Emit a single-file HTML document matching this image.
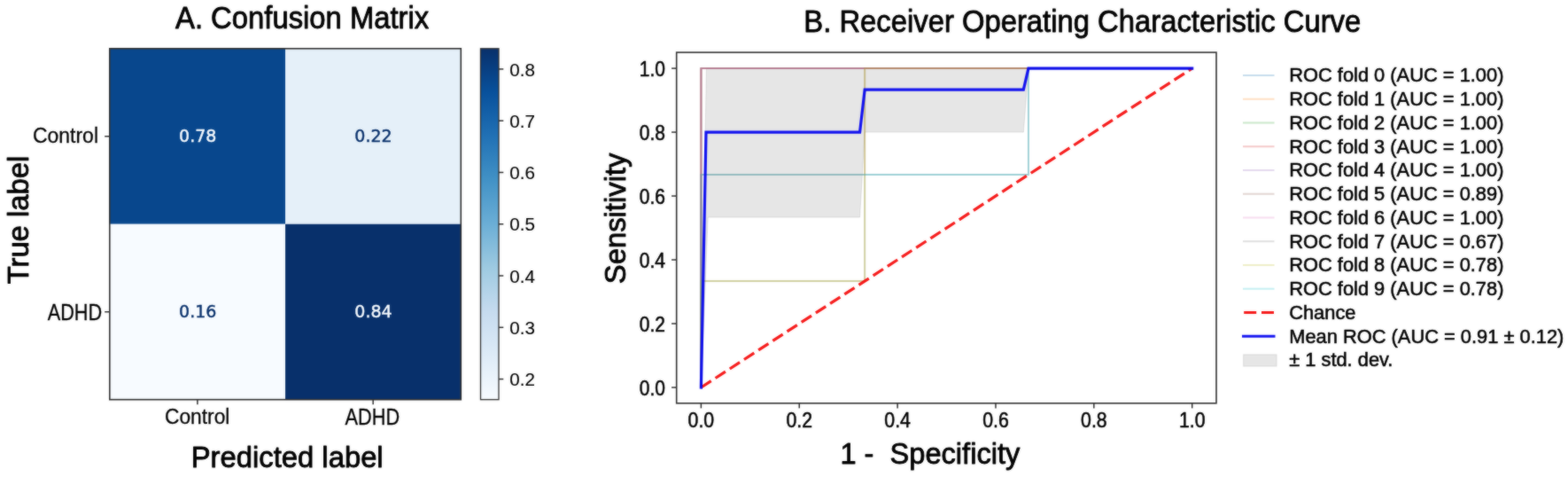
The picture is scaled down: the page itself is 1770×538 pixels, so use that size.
<!DOCTYPE html>
<html lang="en">
<head>
<meta charset="utf-8">
<title>Confusion Matrix and ROC Curve</title>
<style>
html,body{margin:0;padding:0;background:#fff;}
body{width:1770px;height:538px;overflow:hidden;font-family:"Liberation Sans", sans-serif;}
svg{display:block;}
text{white-space:pre;}
</style>
</head>
<body>
<svg width="1770" height="538" viewBox="0 0 1770 538">
<defs>
<filter id="soft" x="0" y="0" width="1770" height="538" filterUnits="userSpaceOnUse" color-interpolation-filters="sRGB">
<feGaussianBlur in="SourceGraphic" stdDeviation="0.8" result="b"/>
<feComposite in="SourceGraphic" in2="b" operator="arithmetic" k1="0" k2="0.55" k3="0.45" k4="0"/>
</filter>
</defs>
<g filter="url(#soft)">
<rect x="0" y="0" width="1770" height="538" fill="#ffffff"/>
<rect x="123.8" y="54.8" width="198.25" height="197.95" fill="#08478d"/>
<rect x="322.05" y="54.8" width="198.25" height="197.95" fill="#e5f0f9"/>
<rect x="123.8" y="252.75" width="198.25" height="197.95" fill="#f7fbff"/>
<rect x="322.05" y="252.75" width="198.25" height="197.95" fill="#08306b"/>
<rect x="123.8" y="54.8" width="396.50" height="395.90" fill="none" stroke="#303030" stroke-width="1.6"/>
<text x="223.22" y="159.78" font-family='"DejaVu Sans", "Liberation Sans", sans-serif' font-size="19.00" fill="#f7fbff" text-anchor="middle" textLength="42.30" lengthAdjust="spacingAndGlyphs" stroke="#f7fbff" stroke-width="0.45" stroke-linejoin="round">0.78</text>
<text x="421.47" y="159.78" font-family='"DejaVu Sans", "Liberation Sans", sans-serif' font-size="19.00" fill="#08306b" text-anchor="middle" textLength="42.30" lengthAdjust="spacingAndGlyphs" stroke="#08306b" stroke-width="0.45" stroke-linejoin="round">0.22</text>
<text x="223.22" y="357.73" font-family='"DejaVu Sans", "Liberation Sans", sans-serif' font-size="19.00" fill="#08306b" text-anchor="middle" textLength="42.30" lengthAdjust="spacingAndGlyphs" stroke="#08306b" stroke-width="0.45" stroke-linejoin="round">0.16</text>
<text x="421.47" y="357.73" font-family='"DejaVu Sans", "Liberation Sans", sans-serif' font-size="19.00" fill="#f7fbff" text-anchor="middle" textLength="42.30" lengthAdjust="spacingAndGlyphs" stroke="#f7fbff" stroke-width="0.45" stroke-linejoin="round">0.84</text>
<line x1="118.2" y1="153.78" x2="123.8" y2="153.78" stroke="#303030" stroke-width="1.5"/>
<line x1="118.2" y1="351.73" x2="123.8" y2="351.73" stroke="#303030" stroke-width="1.5"/>
<line x1="222.92" y1="450.7" x2="222.92" y2="456.3" stroke="#303030" stroke-width="1.5"/>
<line x1="421.17" y1="450.7" x2="421.17" y2="456.3" stroke="#303030" stroke-width="1.5"/>
<text x="37.00" y="161.30" font-family='"Liberation Sans", sans-serif' font-size="23.88" fill="#000" text-anchor="start" textLength="73.99" lengthAdjust="spacingAndGlyphs" stroke="#000" stroke-width="0.3" stroke-linejoin="round">Control</text>
<text x="53.70" y="361.40" font-family='"Liberation Sans", sans-serif' font-size="26.00" fill="#000" text-anchor="start" textLength="61.52" lengthAdjust="spacingAndGlyphs" stroke="#000" stroke-width="0.3" stroke-linejoin="round">ADHD</text>
<text x="186.00" y="478.10" font-family='"Liberation Sans", sans-serif' font-size="23.88" fill="#000" text-anchor="start" textLength="73.34" lengthAdjust="spacingAndGlyphs" stroke="#000" stroke-width="0.3" stroke-linejoin="round">Control</text>
<text x="389.60" y="479.20" font-family='"Liberation Sans", sans-serif' font-size="26.00" fill="#000" text-anchor="start" textLength="61.52" lengthAdjust="spacingAndGlyphs" stroke="#000" stroke-width="0.3" stroke-linejoin="round">ADHD</text>
<text x="215.70" y="526.80" font-family='"Liberation Sans", sans-serif' font-size="33.46" fill="#000" text-anchor="start" textLength="216.98" lengthAdjust="spacingAndGlyphs" stroke="#000" stroke-width="0.85" stroke-linejoin="round">Predicted label</text>
<text x="31.70" y="248.05" font-family='"Liberation Sans", sans-serif' font-size="32.31" fill="#000" text-anchor="middle" textLength="144.64" lengthAdjust="spacingAndGlyphs" stroke="#000" stroke-width="0.85" stroke-linejoin="round" transform="rotate(-90 31.7 248.05)">True label</text>
<text x="198.00" y="31.90" font-family='"Liberation Sans", sans-serif' font-size="34.93" fill="#000" text-anchor="start" textLength="286.20" lengthAdjust="spacingAndGlyphs" stroke="#000" stroke-width="0.85" stroke-linejoin="round">A. Confusion Matrix</text>
<defs><linearGradient id="blues" x1="0" y1="1" x2="0" y2="0">
<stop offset="0.0000" stop-color="#f7fbff"/>
<stop offset="0.1250" stop-color="#deebf7"/>
<stop offset="0.2500" stop-color="#c6dbef"/>
<stop offset="0.3750" stop-color="#9ecae1"/>
<stop offset="0.5000" stop-color="#6baed6"/>
<stop offset="0.6250" stop-color="#4292c6"/>
<stop offset="0.7500" stop-color="#2171b5"/>
<stop offset="0.8750" stop-color="#08519c"/>
<stop offset="1.0000" stop-color="#08306b"/>
</linearGradient></defs>
<rect x="542.5" y="54.8" width="20.5" height="395.90" fill="url(#blues)" stroke="#333" stroke-width="1.3"/>
<line x1="563.0" y1="427.57" x2="568.3" y2="427.57" stroke="#303030" stroke-width="1.5"/>
<text x="575.30" y="435.27" font-family='"Liberation Sans", sans-serif' font-size="20.60" fill="#000" text-anchor="start" textLength="28.64" lengthAdjust="spacingAndGlyphs" stroke="#000" stroke-width="0.15" stroke-linejoin="round">0.2</text>
<line x1="563.0" y1="369.29" x2="568.3" y2="369.29" stroke="#303030" stroke-width="1.5"/>
<text x="575.30" y="376.99" font-family='"Liberation Sans", sans-serif' font-size="20.60" fill="#000" text-anchor="start" textLength="28.64" lengthAdjust="spacingAndGlyphs" stroke="#000" stroke-width="0.15" stroke-linejoin="round">0.3</text>
<line x1="563.0" y1="311.02" x2="568.3" y2="311.02" stroke="#303030" stroke-width="1.5"/>
<text x="575.30" y="318.72" font-family='"Liberation Sans", sans-serif' font-size="20.60" fill="#000" text-anchor="start" textLength="28.64" lengthAdjust="spacingAndGlyphs" stroke="#000" stroke-width="0.15" stroke-linejoin="round">0.4</text>
<line x1="563.0" y1="252.75" x2="568.3" y2="252.75" stroke="#303030" stroke-width="1.5"/>
<text x="575.30" y="260.45" font-family='"Liberation Sans", sans-serif' font-size="20.60" fill="#000" text-anchor="start" textLength="28.64" lengthAdjust="spacingAndGlyphs" stroke="#000" stroke-width="0.15" stroke-linejoin="round">0.5</text>
<line x1="563.0" y1="194.48" x2="568.3" y2="194.48" stroke="#303030" stroke-width="1.5"/>
<text x="575.30" y="202.18" font-family='"Liberation Sans", sans-serif' font-size="20.60" fill="#000" text-anchor="start" textLength="28.64" lengthAdjust="spacingAndGlyphs" stroke="#000" stroke-width="0.15" stroke-linejoin="round">0.6</text>
<line x1="563.0" y1="136.21" x2="568.3" y2="136.21" stroke="#303030" stroke-width="1.5"/>
<text x="575.30" y="143.91" font-family='"Liberation Sans", sans-serif' font-size="20.60" fill="#000" text-anchor="start" textLength="28.64" lengthAdjust="spacingAndGlyphs" stroke="#000" stroke-width="0.15" stroke-linejoin="round">0.7</text>
<line x1="563.0" y1="77.93" x2="568.3" y2="77.93" stroke="#303030" stroke-width="1.5"/>
<text x="575.30" y="85.63" font-family='"Liberation Sans", sans-serif' font-size="20.60" fill="#000" text-anchor="start" textLength="28.64" lengthAdjust="spacingAndGlyphs" stroke="#000" stroke-width="0.15" stroke-linejoin="round">0.8</text>
<path d="M791.40,437.00 L797.40,77.10 L1345.70,77.10 L1345.70,77.10 L1160.93,77.10 L1155.33,149.08 L976.17,149.08 L970.57,245.05 L799.20,245.05 L791.40,437.00Z" fill="#808080" fill-opacity="0.2" stroke="#808080" stroke-opacity="0.2" stroke-width="1"/>
<path d="M791.40,437.00 L791.40,77.10 L1345.70,77.10" fill="none" stroke="#1f77b4" stroke-opacity="0.3" stroke-width="1.9" stroke-linejoin="miter"/>
<path d="M791.40,437.00 L791.40,77.10 L1345.70,77.10" fill="none" stroke="#ff7f0e" stroke-opacity="0.3" stroke-width="1.9" stroke-linejoin="miter"/>
<path d="M791.40,437.00 L791.40,77.10 L1345.70,77.10" fill="none" stroke="#2ca02c" stroke-opacity="0.3" stroke-width="1.9" stroke-linejoin="miter"/>
<path d="M791.40,437.00 L791.40,77.10 L1345.70,77.10" fill="none" stroke="#d62728" stroke-opacity="0.3" stroke-width="1.9" stroke-linejoin="miter"/>
<path d="M791.40,437.00 L791.40,77.10 L1345.70,77.10" fill="none" stroke="#9467bd" stroke-opacity="0.3" stroke-width="1.9" stroke-linejoin="miter"/>
<path d="M791.40,437.00 L791.40,197.07 L976.17,197.07 L976.17,77.10 L1345.70,77.10" fill="none" stroke="#8c564b" stroke-opacity="0.3" stroke-width="1.9" stroke-linejoin="miter"/>
<path d="M791.40,437.00 L791.40,77.10 L1345.70,77.10" fill="none" stroke="#e377c2" stroke-opacity="0.3" stroke-width="1.9" stroke-linejoin="miter"/>
<path d="M791.40,437.00 L791.40,317.03 L976.17,317.03 L976.17,197.07 L1160.93,197.07 L1160.93,77.10 L1345.70,77.10" fill="none" stroke="#7f7f7f" stroke-opacity="0.3" stroke-width="1.9" stroke-linejoin="miter"/>
<path d="M791.40,437.00 L791.40,317.03 L976.17,317.03 L976.17,77.10 L1345.70,77.10" fill="none" stroke="#bcbd22" stroke-opacity="0.3" stroke-width="1.9" stroke-linejoin="miter"/>
<path d="M791.40,437.00 L791.40,197.07 L1160.93,197.07 L1160.93,77.10 L1345.70,77.10" fill="none" stroke="#17becf" stroke-opacity="0.3" stroke-width="1.9" stroke-linejoin="miter"/>
<path d="M791.40,437.00 L1345.70,77.10" fill="none" stroke="#f50000" stroke-opacity="0.9" stroke-width="3.2" stroke-dasharray="13.5,5.8"/>
<path d="M791.40,437.00 L797.00,149.08 L970.57,149.08 L976.17,101.09 L1155.33,101.09 L1160.93,77.10 L1345.70,77.10" fill="none" stroke="#0000f0" stroke-opacity="0.92" stroke-width="3.2" stroke-linejoin="miter" stroke-linecap="square"/>
<rect x="763.7" y="59.1" width="609.30" height="395.70" fill="none" stroke="#303030" stroke-width="1.6"/>
<line x1="791.40" y1="454.8" x2="791.40" y2="460.40000000000003" stroke="#303030" stroke-width="1.5"/>
<text x="791.40" y="482.30" font-family='"Liberation Sans", sans-serif' font-size="23.43" fill="#000" text-anchor="middle" textLength="29.61" lengthAdjust="spacingAndGlyphs" stroke="#000" stroke-width="0.55" stroke-linejoin="round">0.0</text>
<line x1="758.1" y1="437.00" x2="763.7" y2="437.00" stroke="#303030" stroke-width="1.5"/>
<text x="751.00" y="445.80" font-family='"Liberation Sans", sans-serif' font-size="23.10" fill="#000" text-anchor="end" textLength="29.19" lengthAdjust="spacingAndGlyphs" stroke="#000" stroke-width="0.55" stroke-linejoin="round">0.0</text>
<line x1="902.26" y1="454.8" x2="902.26" y2="460.40000000000003" stroke="#303030" stroke-width="1.5"/>
<text x="902.26" y="482.30" font-family='"Liberation Sans", sans-serif' font-size="23.43" fill="#000" text-anchor="middle" textLength="29.61" lengthAdjust="spacingAndGlyphs" stroke="#000" stroke-width="0.55" stroke-linejoin="round">0.2</text>
<line x1="758.1" y1="365.02" x2="763.7" y2="365.02" stroke="#303030" stroke-width="1.5"/>
<text x="751.00" y="373.82" font-family='"Liberation Sans", sans-serif' font-size="23.10" fill="#000" text-anchor="end" textLength="29.19" lengthAdjust="spacingAndGlyphs" stroke="#000" stroke-width="0.55" stroke-linejoin="round">0.2</text>
<line x1="1013.12" y1="454.8" x2="1013.12" y2="460.40000000000003" stroke="#303030" stroke-width="1.5"/>
<text x="1013.12" y="482.30" font-family='"Liberation Sans", sans-serif' font-size="23.43" fill="#000" text-anchor="middle" textLength="29.61" lengthAdjust="spacingAndGlyphs" stroke="#000" stroke-width="0.55" stroke-linejoin="round">0.4</text>
<line x1="758.1" y1="293.04" x2="763.7" y2="293.04" stroke="#303030" stroke-width="1.5"/>
<text x="751.00" y="301.84" font-family='"Liberation Sans", sans-serif' font-size="23.10" fill="#000" text-anchor="end" textLength="29.19" lengthAdjust="spacingAndGlyphs" stroke="#000" stroke-width="0.55" stroke-linejoin="round">0.4</text>
<line x1="1123.98" y1="454.8" x2="1123.98" y2="460.40000000000003" stroke="#303030" stroke-width="1.5"/>
<text x="1123.98" y="482.30" font-family='"Liberation Sans", sans-serif' font-size="23.43" fill="#000" text-anchor="middle" textLength="29.61" lengthAdjust="spacingAndGlyphs" stroke="#000" stroke-width="0.55" stroke-linejoin="round">0.6</text>
<line x1="758.1" y1="221.06" x2="763.7" y2="221.06" stroke="#303030" stroke-width="1.5"/>
<text x="751.00" y="229.86" font-family='"Liberation Sans", sans-serif' font-size="23.10" fill="#000" text-anchor="end" textLength="29.19" lengthAdjust="spacingAndGlyphs" stroke="#000" stroke-width="0.55" stroke-linejoin="round">0.6</text>
<line x1="1234.84" y1="454.8" x2="1234.84" y2="460.40000000000003" stroke="#303030" stroke-width="1.5"/>
<text x="1234.84" y="482.30" font-family='"Liberation Sans", sans-serif' font-size="23.43" fill="#000" text-anchor="middle" textLength="29.61" lengthAdjust="spacingAndGlyphs" stroke="#000" stroke-width="0.55" stroke-linejoin="round">0.8</text>
<line x1="758.1" y1="149.08" x2="763.7" y2="149.08" stroke="#303030" stroke-width="1.5"/>
<text x="751.00" y="157.88" font-family='"Liberation Sans", sans-serif' font-size="23.10" fill="#000" text-anchor="end" textLength="29.19" lengthAdjust="spacingAndGlyphs" stroke="#000" stroke-width="0.55" stroke-linejoin="round">0.8</text>
<line x1="1345.70" y1="454.8" x2="1345.70" y2="460.40000000000003" stroke="#303030" stroke-width="1.5"/>
<text x="1345.70" y="482.30" font-family='"Liberation Sans", sans-serif' font-size="23.43" fill="#000" text-anchor="middle" textLength="29.61" lengthAdjust="spacingAndGlyphs" stroke="#000" stroke-width="0.55" stroke-linejoin="round">1.0</text>
<line x1="758.1" y1="77.10" x2="763.7" y2="77.10" stroke="#303030" stroke-width="1.5"/>
<text x="751.00" y="85.90" font-family='"Liberation Sans", sans-serif' font-size="23.10" fill="#000" text-anchor="end" textLength="29.19" lengthAdjust="spacingAndGlyphs" stroke="#000" stroke-width="0.55" stroke-linejoin="round">1.0</text>
<text x="948.40" y="523.20" font-family='"Liberation Sans", sans-serif' font-size="34.11" fill="#000" text-anchor="start" textLength="202.93" lengthAdjust="spacingAndGlyphs" stroke="#000" stroke-width="0.85" stroke-linejoin="round">1 -  Specificity</text>
<text x="705.80" y="246.35" font-family='"Liberation Sans", sans-serif' font-size="32.31" fill="#000" text-anchor="middle" textLength="147.65" lengthAdjust="spacingAndGlyphs" stroke="#000" stroke-width="0.85" stroke-linejoin="round" transform="rotate(-90 705.8 246.35)">Sensitivity</text>
<text x="907.30" y="36.00" font-family='"Liberation Sans", sans-serif' font-size="34.93" fill="#000" text-anchor="start" textLength="628.90" lengthAdjust="spacingAndGlyphs" stroke="#000" stroke-width="0.85" stroke-linejoin="round">B. Receiver Operating Characteristic Curve</text>
<line x1="1403" y1="85.00" x2="1438.5" y2="85.00" stroke="#1f77b4" stroke-opacity="0.25" stroke-width="2.1"/>
<text x="1455.20" y="92.40" font-family='"Liberation Sans", sans-serif' font-size="22.72" fill="#000" text-anchor="start" textLength="242.26" lengthAdjust="spacingAndGlyphs" stroke="#000" stroke-width="0.57" stroke-linejoin="round">ROC fold 0 (AUC = 1.00)</text>
<line x1="1403" y1="111.75" x2="1438.5" y2="111.75" stroke="#ff7f0e" stroke-opacity="0.25" stroke-width="2.1"/>
<text x="1455.20" y="119.15" font-family='"Liberation Sans", sans-serif' font-size="22.72" fill="#000" text-anchor="start" textLength="242.26" lengthAdjust="spacingAndGlyphs" stroke="#000" stroke-width="0.57" stroke-linejoin="round">ROC fold 1 (AUC = 1.00)</text>
<line x1="1403" y1="138.50" x2="1438.5" y2="138.50" stroke="#2ca02c" stroke-opacity="0.25" stroke-width="2.1"/>
<text x="1455.20" y="145.90" font-family='"Liberation Sans", sans-serif' font-size="22.72" fill="#000" text-anchor="start" textLength="242.26" lengthAdjust="spacingAndGlyphs" stroke="#000" stroke-width="0.57" stroke-linejoin="round">ROC fold 2 (AUC = 1.00)</text>
<line x1="1403" y1="165.25" x2="1438.5" y2="165.25" stroke="#d62728" stroke-opacity="0.25" stroke-width="2.1"/>
<text x="1455.20" y="172.65" font-family='"Liberation Sans", sans-serif' font-size="22.72" fill="#000" text-anchor="start" textLength="242.26" lengthAdjust="spacingAndGlyphs" stroke="#000" stroke-width="0.57" stroke-linejoin="round">ROC fold 3 (AUC = 1.00)</text>
<line x1="1403" y1="192.00" x2="1438.5" y2="192.00" stroke="#9467bd" stroke-opacity="0.25" stroke-width="2.1"/>
<text x="1455.20" y="199.40" font-family='"Liberation Sans", sans-serif' font-size="22.72" fill="#000" text-anchor="start" textLength="242.26" lengthAdjust="spacingAndGlyphs" stroke="#000" stroke-width="0.57" stroke-linejoin="round">ROC fold 4 (AUC = 1.00)</text>
<line x1="1403" y1="218.75" x2="1438.5" y2="218.75" stroke="#8c564b" stroke-opacity="0.25" stroke-width="2.1"/>
<text x="1455.20" y="226.15" font-family='"Liberation Sans", sans-serif' font-size="22.72" fill="#000" text-anchor="start" textLength="242.26" lengthAdjust="spacingAndGlyphs" stroke="#000" stroke-width="0.57" stroke-linejoin="round">ROC fold 5 (AUC = 0.89)</text>
<line x1="1403" y1="245.50" x2="1438.5" y2="245.50" stroke="#e377c2" stroke-opacity="0.25" stroke-width="2.1"/>
<text x="1455.20" y="252.90" font-family='"Liberation Sans", sans-serif' font-size="22.72" fill="#000" text-anchor="start" textLength="242.26" lengthAdjust="spacingAndGlyphs" stroke="#000" stroke-width="0.57" stroke-linejoin="round">ROC fold 6 (AUC = 1.00)</text>
<line x1="1403" y1="272.25" x2="1438.5" y2="272.25" stroke="#7f7f7f" stroke-opacity="0.25" stroke-width="2.1"/>
<text x="1455.20" y="279.65" font-family='"Liberation Sans", sans-serif' font-size="22.72" fill="#000" text-anchor="start" textLength="242.26" lengthAdjust="spacingAndGlyphs" stroke="#000" stroke-width="0.57" stroke-linejoin="round">ROC fold 7 (AUC = 0.67)</text>
<line x1="1403" y1="299.00" x2="1438.5" y2="299.00" stroke="#bcbd22" stroke-opacity="0.25" stroke-width="2.1"/>
<text x="1455.20" y="306.40" font-family='"Liberation Sans", sans-serif' font-size="22.72" fill="#000" text-anchor="start" textLength="242.26" lengthAdjust="spacingAndGlyphs" stroke="#000" stroke-width="0.57" stroke-linejoin="round">ROC fold 8 (AUC = 0.78)</text>
<line x1="1403" y1="325.75" x2="1438.5" y2="325.75" stroke="#17becf" stroke-opacity="0.25" stroke-width="2.1"/>
<text x="1455.20" y="333.15" font-family='"Liberation Sans", sans-serif' font-size="22.72" fill="#000" text-anchor="start" textLength="242.26" lengthAdjust="spacingAndGlyphs" stroke="#000" stroke-width="0.57" stroke-linejoin="round">ROC fold 9 (AUC = 0.78)</text>
<line x1="1404.2" y1="352.50" x2="1439.5" y2="352.50" stroke="#f50000" stroke-opacity="0.9" stroke-width="3.2" stroke-dasharray="14,5.8"/>
<text x="1455.20" y="359.90" font-family='"Liberation Sans", sans-serif' font-size="22.72" fill="#000" text-anchor="start" textLength="75.31" lengthAdjust="spacingAndGlyphs" stroke="#000" stroke-width="0.57" stroke-linejoin="round">Chance</text>
<line x1="1402" y1="379.25" x2="1439.5" y2="379.25" stroke="#0000f0" stroke-opacity="0.92" stroke-width="3.2"/>
<text x="1455.20" y="386.65" font-family='"Liberation Sans", sans-serif' font-size="22.72" fill="#000" text-anchor="start" textLength="310.13" lengthAdjust="spacingAndGlyphs" stroke="#000" stroke-width="0.57" stroke-linejoin="round">Mean ROC (AUC = 0.91 ± 0.12)</text>
<rect x="1403.7" y="399.90" width="37.4" height="13.2" fill="#808080" fill-opacity="0.2" stroke="#808080" stroke-opacity="0.2" stroke-width="1"/>
<text x="1455.20" y="413.40" font-family='"Liberation Sans", sans-serif' font-size="22.72" fill="#000" text-anchor="start" textLength="117.25" lengthAdjust="spacingAndGlyphs" stroke="#000" stroke-width="0.57" stroke-linejoin="round">± 1 std. dev.</text>
</g>
</svg>
</body>
</html>
